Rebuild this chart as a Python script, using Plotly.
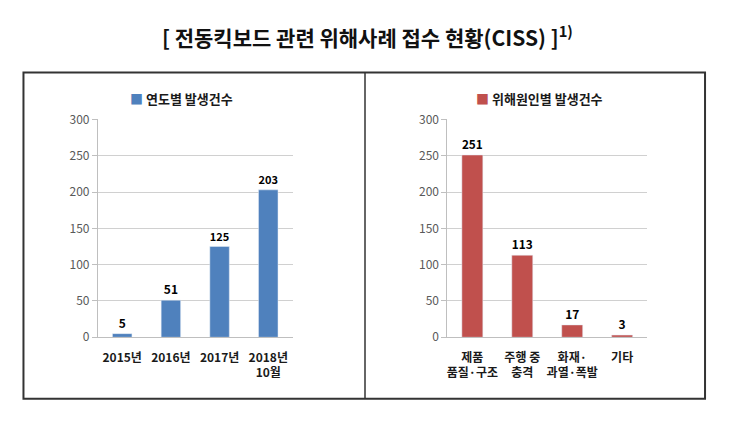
import plotly.graph_objects as go

# Data
year_labels = ["2015년", "2016년", "2017년", "2018년<br>10월"]
year_values = [5, 51, 125, 203]
cause_labels = ["제품<br>품질·구조", "주행 중<br>충격", "화재·<br>과열·폭발", "기타"]
cause_values = [251, 113, 17, 3]
title_text = "[ 전동킥보드 관련 위해사례 접수 현황(CISS) ]<sup>1)</sup>"
legend_left = "연도별 발생건수"
legend_right = "위해원인별 발생건수"
y_ticks = [0, 50, 100, 150, 200, 250, 300]

BLUE = "#4F81BD"
RED = "#C0504D"
FONT = "Noto Sans CJK KR"
W, H = 730, 422

fig = go.Figure()
fig.add_trace(go.Bar(x=year_labels, y=year_values, marker_color=BLUE, width=0.4,
                     text=year_values, textposition="outside", cliponaxis=False,
                     textfont=dict(family=FONT, size=12, color="#000000", weight="bold"),
                     xaxis="x", yaxis="y", showlegend=False))
fig.add_trace(go.Bar(x=cause_labels, y=cause_values, marker_color=RED, width=0.42,
                     text=cause_values, textposition="outside", cliponaxis=False,
                     textfont=dict(family=FONT, size=12, color="#000000", weight="bold"),
                     xaxis="x2", yaxis="y2", showlegend=False))

def px_x(v):
    return v / W

def px_y(v):
    return 1 - v / H

yax = dict(range=[0, 300], tickvals=y_ticks, showgrid=True, gridcolor="#D0D0D0", gridwidth=1,
           showline=True, linecolor="#BFBFBF", linewidth=1, ticks="outside", ticklen=5,
           tickcolor="#BFBFBF", tickfont=dict(family=FONT, size=12, color="#595959"),
           zeroline=False, fixedrange=True)
xax = dict(showline=True, linecolor="#BFBFBF", linewidth=1, ticks="", showgrid=False,
           tickfont=dict(family=FONT, size=12, color="#1a1a1a", weight="bold"),
           ticklabelstandoff=9, fixedrange=True)

fig.update_layout(
    width=W, height=H, autosize=False,
    margin=dict(l=0, r=0, t=0, b=0),
    paper_bgcolor="white", plot_bgcolor="white",
    xaxis=dict(domain=[px_x(97), px_x(292)], anchor="y", **xax),
    yaxis=dict(domain=[px_y(341), px_y(114)], anchor="x", **yax),
    xaxis2=dict(domain=[px_x(447), px_x(647)], anchor="y2", **xax),
    yaxis2=dict(domain=[px_y(341), px_y(114)], anchor="x2", **yax),
    bargap=0.6,
    showlegend=False,
)

# Frames
fig.add_shape(type="rect", xref="paper", yref="paper",
              x0=px_x(22.5), x1=px_x(705), y0=px_y(405), y1=px_y(65),
              line=dict(color="#333333", width=2), fillcolor="rgba(0,0,0,0)")
fig.add_shape(type="line", xref="paper", yref="paper",
              x0=px_x(364.5), x1=px_x(364.5), y0=px_y(405), y1=px_y(65),
              line=dict(color="#333333", width=1.5))

# Title
fig.add_annotation(text=title_text, xref="paper", yref="paper", x=px_x(367), y=px_y(27),
                   xanchor="center", yanchor="middle", showarrow=False,
                   font=dict(family=FONT, size=21, color="#111111", weight="bold"))

# Legends
fig.add_annotation(text=f"<span style='color:{BLUE}'>■</span> {legend_left}", xref="paper", yref="paper",
                   x=px_x(127), y=px_y(92), xanchor="left", yanchor="middle", showarrow=False,
                   font=dict(family=FONT, size=13, color="#1a1a1a", weight="bold"))
fig.add_annotation(text=f"<span style='color:{RED}'>■</span> {legend_right}", xref="paper", yref="paper",
                   x=px_x(474), y=px_y(92), xanchor="left", yanchor="middle", showarrow=False,
                   font=dict(family=FONT, size=13, color="#1a1a1a", weight="bold"))

fig.write_html("out.html")
